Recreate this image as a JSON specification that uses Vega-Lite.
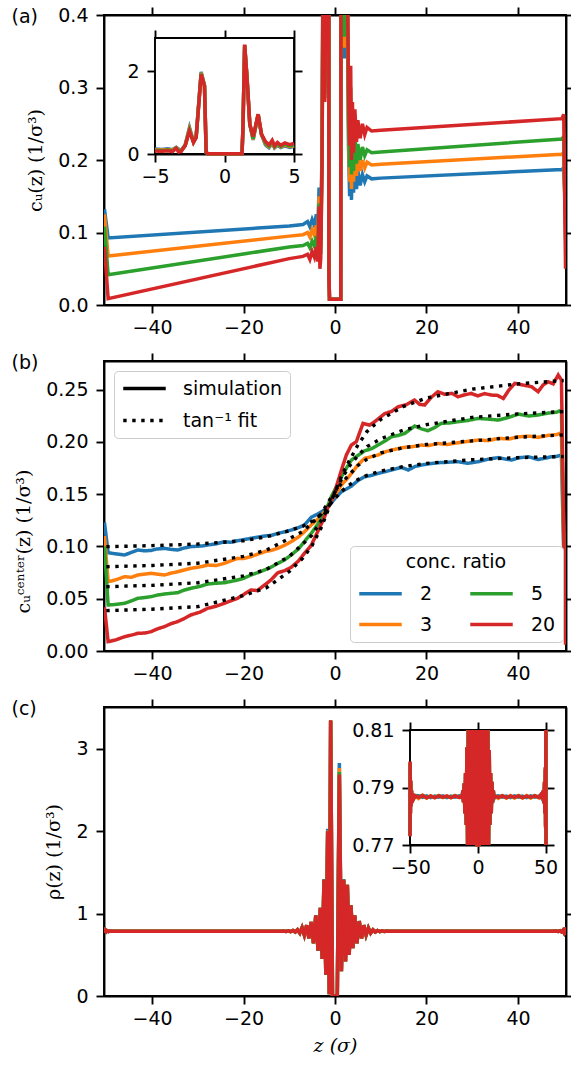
{
  "$schema": "https://vega.github.io/schema/vega-lite/v6.json",
  "background": "white",
  "padding": {"left": 10, "top": 5, "right": 0, "bottom": 4},
  "spacing": 13,
  "config": {
    "view": {"stroke": "black", "strokeWidth": 1.9},
    "axis": {"grid": false, "zindex": 1, "domainColor": "black", "domainWidth": 1.9, "tickColor": "black", "tickWidth": 1.9, "tickSize": 8, "labelFont": "DejaVu Sans", "labelFontSize": 19, "labelColor": "black", "titleFont": "DejaVu Serif", "titleFontSize": 19, "titleFontWeight": "normal", "titleColor": "black", "labelFlush": false, "labelOverlap": false},
    "axisX": {"labelPadding": 5, "titlePadding": 8},
    "axisY": {"labelPadding": 8, "titlePadding": 12},
    "line": {"strokeWidth": 3.5}
  },
  "resolve": {"scale": {"color": "independent", "strokeDash": "independent"}, "legend": {"color": "independent", "strokeDash": "independent"}},
  "datasets": {
    "cu": [
      {"z":-50.4,"ratio":"2","c":0.132},{"z":-49.6,"ratio":"2","c":0.0924},{"z":-10,"ratio":"2","c":0.109},{"z":-7,"ratio":"2","c":0.111},{"z":-6,"ratio":"2","c":0.115},{"z":-5.5,"ratio":"2","c":0.108},{"z":-5,"ratio":"2","c":0.118},{"z":-4.5,"ratio":"2","c":0.11},{"z":-4.08,"ratio":"2","c":0.125},{"z":-3.75,"ratio":"2","c":0.105},{"z":-3.48,"ratio":"2","c":0.162},{"z":-3.3,"ratio":"2","c":0.115},{"z":-3.12,"ratio":"2","c":0.09},{"z":-2.83,"ratio":"2","c":0.22},{"z":-2.52,"ratio":"2","c":0.64},{"z":-2.23,"ratio":"2","c":0.3},{"z":-2.04,"ratio":"2","c":0.42},{"z":-1.68,"ratio":"2","c":1.98},{"z":-1.44,"ratio":"2","c":1.66},{"z":-1.32,"ratio":"2","c":0.04},{"z":-1.2,"ratio":"2","c":0.008},{"z":1.26,"ratio":"2","c":0.008},{"z":1.33,"ratio":"2","c":0.64},{"z":1.45,"ratio":"2","c":2.62},{"z":1.62,"ratio":"2","c":1.84},{"z":1.82,"ratio":"2","c":0.72},{"z":2.06,"ratio":"2","c":0.34},{"z":2.42,"ratio":"2","c":0.95},{"z":2.66,"ratio":"2","c":0.47},{"z":2.95,"ratio":"2","c":0.22},{"z":3.2,"ratio":"2","c":0.15},{"z":3.43,"ratio":"2","c":0.26},{"z":3.6,"ratio":"2","c":0.145},{"z":3.81,"ratio":"2","c":0.21},{"z":4.05,"ratio":"2","c":0.155},{"z":4.34,"ratio":"2","c":0.2},{"z":4.7,"ratio":"2","c":0.16},{"z":5,"ratio":"2","c":0.185},{"z":5.5,"ratio":"2","c":0.165},{"z":6,"ratio":"2","c":0.18},{"z":6.5,"ratio":"2","c":0.17},{"z":7,"ratio":"2","c":0.178},{"z":8,"ratio":"2","c":0.174},{"z":10,"ratio":"2","c":0.175},{"z":49.6,"ratio":"2","c":0.187},{"z":50,"ratio":"2","c":0.189},{"z":50.4,"ratio":"2","c":0.13},
      {"z":-50.4,"ratio":"3","c":0.125},{"z":-49.6,"ratio":"3","c":0.0676},{"z":-10,"ratio":"3","c":0.095},{"z":-7,"ratio":"3","c":0.097},{"z":-6,"ratio":"3","c":0.1},{"z":-5.5,"ratio":"3","c":0.094},{"z":-5,"ratio":"3","c":0.104},{"z":-4.5,"ratio":"3","c":0.096},{"z":-4.08,"ratio":"3","c":0.11},{"z":-3.75,"ratio":"3","c":0.092},{"z":-3.48,"ratio":"3","c":0.15},{"z":-3.3,"ratio":"3","c":0.1},{"z":-3.12,"ratio":"3","c":0.08},{"z":-2.83,"ratio":"3","c":0.21},{"z":-2.52,"ratio":"3","c":0.61},{"z":-2.23,"ratio":"3","c":0.29},{"z":-2.04,"ratio":"3","c":0.41},{"z":-1.68,"ratio":"3","c":1.96},{"z":-1.44,"ratio":"3","c":1.65},{"z":-1.32,"ratio":"3","c":0.04},{"z":-1.2,"ratio":"3","c":0.008},{"z":1.26,"ratio":"3","c":0.008},{"z":1.33,"ratio":"3","c":0.64},{"z":1.45,"ratio":"3","c":2.63},{"z":1.62,"ratio":"3","c":1.84},{"z":1.82,"ratio":"3","c":0.72},{"z":2.06,"ratio":"3","c":0.355},{"z":2.42,"ratio":"3","c":0.955},{"z":2.66,"ratio":"3","c":0.475},{"z":2.95,"ratio":"3","c":0.24},{"z":3.2,"ratio":"3","c":0.17},{"z":3.43,"ratio":"3","c":0.28},{"z":3.6,"ratio":"3","c":0.16},{"z":3.81,"ratio":"3","c":0.23},{"z":4.05,"ratio":"3","c":0.17},{"z":4.34,"ratio":"3","c":0.22},{"z":4.7,"ratio":"3","c":0.178},{"z":5,"ratio":"3","c":0.205},{"z":5.5,"ratio":"3","c":0.185},{"z":6,"ratio":"3","c":0.2},{"z":6.5,"ratio":"3","c":0.189},{"z":7,"ratio":"3","c":0.197},{"z":8,"ratio":"3","c":0.193},{"z":10,"ratio":"3","c":0.194},{"z":49.6,"ratio":"3","c":0.208},{"z":50,"ratio":"3","c":0.21},{"z":50.4,"ratio":"3","c":0.11},
      {"z":-50.4,"ratio":"5","c":0.108},{"z":-49.6,"ratio":"5","c":0.0418},{"z":-10,"ratio":"5","c":0.08},{"z":-7,"ratio":"5","c":0.082},{"z":-6,"ratio":"5","c":0.085},{"z":-5.5,"ratio":"5","c":0.079},{"z":-5,"ratio":"5","c":0.088},{"z":-4.5,"ratio":"5","c":0.081},{"z":-4.08,"ratio":"5","c":0.095},{"z":-3.75,"ratio":"5","c":0.076},{"z":-3.48,"ratio":"5","c":0.14},{"z":-3.3,"ratio":"5","c":0.085},{"z":-3.12,"ratio":"5","c":0.07},{"z":-2.83,"ratio":"5","c":0.2},{"z":-2.52,"ratio":"5","c":0.58},{"z":-2.23,"ratio":"5","c":0.285},{"z":-2.04,"ratio":"5","c":0.4},{"z":-1.68,"ratio":"5","c":1.94},{"z":-1.44,"ratio":"5","c":1.645},{"z":-1.32,"ratio":"5","c":0.04},{"z":-1.2,"ratio":"5","c":0.008},{"z":1.26,"ratio":"5","c":0.008},{"z":1.33,"ratio":"5","c":0.64},{"z":1.45,"ratio":"5","c":2.63},{"z":1.62,"ratio":"5","c":1.84},{"z":1.82,"ratio":"5","c":0.72},{"z":2.06,"ratio":"5","c":0.37},{"z":2.42,"ratio":"5","c":0.958},{"z":2.66,"ratio":"5","c":0.478},{"z":2.95,"ratio":"5","c":0.26},{"z":3.2,"ratio":"5","c":0.19},{"z":3.43,"ratio":"5","c":0.3},{"z":3.6,"ratio":"5","c":0.18},{"z":3.81,"ratio":"5","c":0.245},{"z":4.05,"ratio":"5","c":0.185},{"z":4.34,"ratio":"5","c":0.24},{"z":4.7,"ratio":"5","c":0.195},{"z":5,"ratio":"5","c":0.222},{"z":5.5,"ratio":"5","c":0.2},{"z":6,"ratio":"5","c":0.218},{"z":6.5,"ratio":"5","c":0.206},{"z":7,"ratio":"5","c":0.214},{"z":8,"ratio":"5","c":0.21},{"z":10,"ratio":"5","c":0.211},{"z":49.6,"ratio":"5","c":0.229},{"z":50,"ratio":"5","c":0.232},{"z":50.4,"ratio":"5","c":0.09},
      {"z":-50.4,"ratio":"20","c":0.08},{"z":-49.6,"ratio":"20","c":0.0087},{"z":-10,"ratio":"20","c":0.064},{"z":-7,"ratio":"20","c":0.067},{"z":-6,"ratio":"20","c":0.07},{"z":-5.5,"ratio":"20","c":0.063},{"z":-5,"ratio":"20","c":0.074},{"z":-4.5,"ratio":"20","c":0.066},{"z":-4.08,"ratio":"20","c":0.08},{"z":-3.75,"ratio":"20","c":0.06},{"z":-3.48,"ratio":"20","c":0.136},{"z":-3.3,"ratio":"20","c":0.05},{"z":-3.12,"ratio":"20","c":0.064},{"z":-2.83,"ratio":"20","c":0.2},{"z":-2.52,"ratio":"20","c":0.55},{"z":-2.23,"ratio":"20","c":0.28},{"z":-2.04,"ratio":"20","c":0.4},{"z":-1.68,"ratio":"20","c":1.92},{"z":-1.44,"ratio":"20","c":1.64},{"z":-1.32,"ratio":"20","c":0.04},{"z":-1.2,"ratio":"20","c":0.008},{"z":1.26,"ratio":"20","c":0.008},{"z":1.33,"ratio":"20","c":0.64},{"z":1.45,"ratio":"20","c":2.64},{"z":1.62,"ratio":"20","c":1.84},{"z":1.82,"ratio":"20","c":0.72},{"z":2.06,"ratio":"20","c":0.42},{"z":2.42,"ratio":"20","c":0.96},{"z":2.66,"ratio":"20","c":0.48},{"z":2.95,"ratio":"20","c":0.3},{"z":3.2,"ratio":"20","c":0.22},{"z":3.43,"ratio":"20","c":0.33},{"z":3.6,"ratio":"20","c":0.2},{"z":3.81,"ratio":"20","c":0.28},{"z":4.05,"ratio":"20","c":0.21},{"z":4.34,"ratio":"20","c":0.27},{"z":4.7,"ratio":"20","c":0.225},{"z":5,"ratio":"20","c":0.255},{"z":5.5,"ratio":"20","c":0.23},{"z":6,"ratio":"20","c":0.25},{"z":6.5,"ratio":"20","c":0.235},{"z":7,"ratio":"20","c":0.245},{"z":8,"ratio":"20","c":0.24},{"z":10,"ratio":"20","c":0.241},{"z":49.6,"ratio":"20","c":0.257},{"z":50,"ratio":"20","c":0.263},{"z":50.4,"ratio":"20","c":0.05}
    ],
    "sim": [
      {"z":-50.4,"ratio":"2","c":0.123},{"z":-49.6,"ratio":"2","c":0.094},{"z":-48,"ratio":"2","c":0.093},{"z":-46,"ratio":"2","c":0.0918},{"z":-45,"ratio":"2","c":0.0935},{"z":-43.1,"ratio":"2","c":0.0966},{"z":-41.5,"ratio":"2","c":0.0958},{"z":-40.2,"ratio":"2","c":0.0962},{"z":-39,"ratio":"2","c":0.0975},{"z":-37.3,"ratio":"2","c":0.0982},{"z":-35.8,"ratio":"2","c":0.0972},{"z":-34.4,"ratio":"2","c":0.0966},{"z":-33,"ratio":"2","c":0.0985},{"z":-31.5,"ratio":"2","c":0.0998},{"z":-29,"ratio":"2","c":0.1005},{"z":-27.8,"ratio":"2","c":0.1014},{"z":-26,"ratio":"2","c":0.1025},{"z":-24.2,"ratio":"2","c":0.1045},{"z":-22.8,"ratio":"2","c":0.104},{"z":-21.3,"ratio":"2","c":0.1055},{"z":-20,"ratio":"2","c":0.1065},{"z":-18.4,"ratio":"2","c":0.1078},{"z":-17,"ratio":"2","c":0.1088},{"z":-15.4,"ratio":"2","c":0.11},{"z":-14,"ratio":"2","c":0.1105},{"z":-12.5,"ratio":"2","c":0.1125},{"z":-11,"ratio":"2","c":0.114},{"z":-9.6,"ratio":"2","c":0.1157},{"z":-8,"ratio":"2","c":0.118},{"z":-6.7,"ratio":"2","c":0.1205},{"z":-5.2,"ratio":"2","c":0.1279},{"z":-3.8,"ratio":"2","c":0.131},{"z":-2.3,"ratio":"2","c":0.135},{"z":-1.5,"ratio":"2","c":0.138},{"z":0,"ratio":"2","c":0.146},{"z":1.4,"ratio":"2","c":0.1524},{"z":2.5,"ratio":"2","c":0.155},{"z":3.6,"ratio":"2","c":0.1578},{"z":5,"ratio":"2","c":0.163},{"z":6.5,"ratio":"2","c":0.1667},{"z":8,"ratio":"2","c":0.168},{"z":9.4,"ratio":"2","c":0.1699},{"z":11,"ratio":"2","c":0.1715},{"z":12.3,"ratio":"2","c":0.1731},{"z":13.5,"ratio":"2","c":0.1745},{"z":14.5,"ratio":"2","c":0.1757},{"z":16,"ratio":"2","c":0.1731},{"z":17.5,"ratio":"2","c":0.1765},{"z":18.9,"ratio":"2","c":0.1779},{"z":20.5,"ratio":"2","c":0.179},{"z":22.5,"ratio":"2","c":0.1801},{"z":24.5,"ratio":"2","c":0.1805},{"z":26.9,"ratio":"2","c":0.1811},{"z":29,"ratio":"2","c":0.1795},{"z":31.3,"ratio":"2","c":0.1811},{"z":33.5,"ratio":"2","c":0.1835},{"z":35.7,"ratio":"2","c":0.185},{"z":37,"ratio":"2","c":0.1838},{"z":38.6,"ratio":"2","c":0.1827},{"z":40.2,"ratio":"2","c":0.1848},{"z":42.3,"ratio":"2","c":0.1858},{"z":44.4,"ratio":"2","c":0.1832},{"z":46,"ratio":"2","c":0.1845},{"z":47.3,"ratio":"2","c":0.1858},{"z":48.5,"ratio":"2","c":0.1862},{"z":49.5,"ratio":"2","c":0.1875},{"z":50.4,"ratio":"2","c":0.02},
      {"z":-50.4,"ratio":"3","c":0.11},{"z":-49.6,"ratio":"3","c":0.0663},{"z":-48,"ratio":"3","c":0.068},{"z":-46,"ratio":"3","c":0.0711},{"z":-44.5,"ratio":"3","c":0.0705},{"z":-43.1,"ratio":"3","c":0.0727},{"z":-40.2,"ratio":"3","c":0.0743},{"z":-38.8,"ratio":"3","c":0.0735},{"z":-37.3,"ratio":"3","c":0.0727},{"z":-35.8,"ratio":"3","c":0.0745},{"z":-34.4,"ratio":"3","c":0.0758},{"z":-33,"ratio":"3","c":0.0775},{"z":-31.5,"ratio":"3","c":0.0791},{"z":-29.5,"ratio":"3","c":0.0805},{"z":-27.8,"ratio":"3","c":0.0822},{"z":-26,"ratio":"3","c":0.0818},{"z":-24.2,"ratio":"3","c":0.0838},{"z":-22.8,"ratio":"3","c":0.0862},{"z":-21.3,"ratio":"3","c":0.0886},{"z":-20,"ratio":"3","c":0.0885},{"z":-18.4,"ratio":"3","c":0.0902},{"z":-17,"ratio":"3","c":0.0925},{"z":-15.4,"ratio":"3","c":0.095},{"z":-14,"ratio":"3","c":0.0962},{"z":-12.5,"ratio":"3","c":0.0982},{"z":-11,"ratio":"3","c":0.1012},{"z":-9.6,"ratio":"3","c":0.1045},{"z":-8,"ratio":"3","c":0.109},{"z":-6.7,"ratio":"3","c":0.114},{"z":-5.2,"ratio":"3","c":0.1205},{"z":-3.8,"ratio":"3","c":0.126},{"z":-2.3,"ratio":"3","c":0.133},{"z":-0.8,"ratio":"3","c":0.1444},{"z":0.3,"ratio":"3","c":0.151},{"z":1.4,"ratio":"3","c":0.1588},{"z":2.5,"ratio":"3","c":0.164},{"z":3.6,"ratio":"3","c":0.1699},{"z":5,"ratio":"3","c":0.178},{"z":6.5,"ratio":"3","c":0.1843},{"z":8,"ratio":"3","c":0.1859},{"z":9.4,"ratio":"3","c":0.1875},{"z":11,"ratio":"3","c":0.1905},{"z":12.3,"ratio":"3","c":0.1922},{"z":13.8,"ratio":"3","c":0.1935},{"z":15.2,"ratio":"3","c":0.1948},{"z":17,"ratio":"3","c":0.1955},{"z":18.9,"ratio":"3","c":0.197},{"z":20.5,"ratio":"3","c":0.1965},{"z":22.5,"ratio":"3","c":0.1985},{"z":24.5,"ratio":"3","c":0.1975},{"z":26.9,"ratio":"3","c":0.1992},{"z":29,"ratio":"3","c":0.2005},{"z":31.3,"ratio":"3","c":0.2018},{"z":33.5,"ratio":"3","c":0.2012},{"z":35.7,"ratio":"3","c":0.2034},{"z":38,"ratio":"3","c":0.2028},{"z":40.1,"ratio":"3","c":0.2049},{"z":42.5,"ratio":"3","c":0.2055},{"z":44.4,"ratio":"3","c":0.2043},{"z":46.5,"ratio":"3","c":0.2062},{"z":48.5,"ratio":"3","c":0.207},{"z":49.5,"ratio":"3","c":0.2088},{"z":50.4,"ratio":"3","c":0.02},
      {"z":-50.4,"ratio":"5","c":0.1},{"z":-49.6,"ratio":"5","c":0.044},{"z":-48,"ratio":"5","c":0.0445},{"z":-46,"ratio":"5","c":0.0456},{"z":-44.5,"ratio":"5","c":0.048},{"z":-43.1,"ratio":"5","c":0.0504},{"z":-41.5,"ratio":"5","c":0.0512},{"z":-40.2,"ratio":"5","c":0.052},{"z":-38.8,"ratio":"5","c":0.0535},{"z":-37.3,"ratio":"5","c":0.0545},{"z":-35.8,"ratio":"5","c":0.0552},{"z":-34.4,"ratio":"5","c":0.0558},{"z":-33,"ratio":"5","c":0.0582},{"z":-31.5,"ratio":"5","c":0.06},{"z":-29.5,"ratio":"5","c":0.0618},{"z":-27.8,"ratio":"5","c":0.0641},{"z":-26,"ratio":"5","c":0.0648},{"z":-24.2,"ratio":"5","c":0.0653},{"z":-22.8,"ratio":"5","c":0.0665},{"z":-21.3,"ratio":"5","c":0.0679},{"z":-20,"ratio":"5","c":0.0695},{"z":-18.4,"ratio":"5","c":0.0727},{"z":-17,"ratio":"5","c":0.0748},{"z":-15.4,"ratio":"5","c":0.0775},{"z":-14,"ratio":"5","c":0.0802},{"z":-12.5,"ratio":"5","c":0.0838},{"z":-11,"ratio":"5","c":0.0872},{"z":-9.6,"ratio":"5","c":0.0918},{"z":-8,"ratio":"5","c":0.0975},{"z":-6.7,"ratio":"5","c":0.1046},{"z":-5.2,"ratio":"5","c":0.1125},{"z":-3.8,"ratio":"5","c":0.121},{"z":-2.3,"ratio":"5","c":0.131},{"z":-0.8,"ratio":"5","c":0.1476},{"z":0.3,"ratio":"5","c":0.157},{"z":1.4,"ratio":"5","c":0.1667},{"z":2.5,"ratio":"5","c":0.175},{"z":3.6,"ratio":"5","c":0.1827},{"z":5,"ratio":"5","c":0.187},{"z":6.5,"ratio":"5","c":0.1915},{"z":8,"ratio":"5","c":0.1935},{"z":9.4,"ratio":"5","c":0.197},{"z":11,"ratio":"5","c":0.201},{"z":12.3,"ratio":"5","c":0.2049},{"z":13.8,"ratio":"5","c":0.2062},{"z":15.2,"ratio":"5","c":0.208},{"z":16.3,"ratio":"5","c":0.2115},{"z":17.4,"ratio":"5","c":0.2152},{"z":18.9,"ratio":"5","c":0.2125},{"z":20.3,"ratio":"5","c":0.2107},{"z":21.7,"ratio":"5","c":0.2135},{"z":23.2,"ratio":"5","c":0.2177},{"z":25,"ratio":"5","c":0.2182},{"z":26.9,"ratio":"5","c":0.2193},{"z":29,"ratio":"5","c":0.2205},{"z":31.3,"ratio":"5","c":0.2225},{"z":33.5,"ratio":"5","c":0.2218},{"z":35.7,"ratio":"5","c":0.2209},{"z":38,"ratio":"5","c":0.2235},{"z":40.1,"ratio":"5","c":0.2266},{"z":42.3,"ratio":"5","c":0.2248},{"z":44.4,"ratio":"5","c":0.2257},{"z":46.5,"ratio":"5","c":0.2275},{"z":48.5,"ratio":"5","c":0.2285},{"z":49.5,"ratio":"5","c":0.2305},{"z":50.4,"ratio":"5","c":0.02},
      {"z":-50.4,"ratio":"20","c":0.042},{"z":-49.6,"ratio":"20","c":0.0089},{"z":-48,"ratio":"20","c":0.0105},{"z":-46,"ratio":"20","c":0.0137},{"z":-44.5,"ratio":"20","c":0.0152},{"z":-43.1,"ratio":"20","c":0.0169},{"z":-41.5,"ratio":"20","c":0.0172},{"z":-40.2,"ratio":"20","c":0.0185},{"z":-38.8,"ratio":"20","c":0.0212},{"z":-37.3,"ratio":"20","c":0.0233},{"z":-35.8,"ratio":"20","c":0.0262},{"z":-34.4,"ratio":"20","c":0.0281},{"z":-33,"ratio":"20","c":0.031},{"z":-31.5,"ratio":"20","c":0.0345},{"z":-29.5,"ratio":"20","c":0.0372},{"z":-27.8,"ratio":"20","c":0.0409},{"z":-26,"ratio":"20","c":0.0428},{"z":-24.2,"ratio":"20","c":0.0456},{"z":-22.8,"ratio":"20","c":0.048},{"z":-21.3,"ratio":"20","c":0.0504},{"z":-19.8,"ratio":"20","c":0.0545},{"z":-18.4,"ratio":"20","c":0.0584},{"z":-17,"ratio":"20","c":0.0578},{"z":-15.4,"ratio":"20","c":0.0631},{"z":-14,"ratio":"20","c":0.068},{"z":-12.5,"ratio":"20","c":0.0749},{"z":-11,"ratio":"20","c":0.0768},{"z":-9.6,"ratio":"20","c":0.08},{"z":-8,"ratio":"20","c":0.086},{"z":-6.7,"ratio":"20","c":0.0934},{"z":-5.2,"ratio":"20","c":0.101},{"z":-3.8,"ratio":"20","c":0.114},{"z":-2.3,"ratio":"20","c":0.128},{"z":-1.5,"ratio":"20","c":0.138},{"z":-1.05,"ratio":"20","c":0.141},{"z":0,"ratio":"20","c":0.153},{"z":1.4,"ratio":"20","c":0.173},{"z":2.48,"ratio":"20","c":0.1875},{"z":3.57,"ratio":"20","c":0.197},{"z":4.66,"ratio":"20","c":0.2002},{"z":6.12,"ratio":"20","c":0.2177},{"z":7.58,"ratio":"20","c":0.2161},{"z":8.67,"ratio":"20","c":0.2193},{"z":10.9,"ratio":"20","c":0.2272},{"z":12.3,"ratio":"20","c":0.229},{"z":13.8,"ratio":"20","c":0.2336},{"z":15.5,"ratio":"20","c":0.2355},{"z":17.4,"ratio":"20","c":0.24},{"z":18.5,"ratio":"20","c":0.236},{"z":19.6,"ratio":"20","c":0.2353},{"z":21,"ratio":"20","c":0.2425},{"z":22.5,"ratio":"20","c":0.248},{"z":24,"ratio":"20","c":0.2455},{"z":25.5,"ratio":"20","c":0.2465},{"z":26.9,"ratio":"20","c":0.2432},{"z":28.3,"ratio":"20","c":0.245},{"z":29.8,"ratio":"20","c":0.2464},{"z":31.2,"ratio":"20","c":0.244},{"z":32.7,"ratio":"20","c":0.2462},{"z":34.2,"ratio":"20","c":0.2448},{"z":35.5,"ratio":"20","c":0.2445},{"z":36.8,"ratio":"20","c":0.2416},{"z":38,"ratio":"20","c":0.2495},{"z":39.3,"ratio":"20","c":0.256},{"z":41,"ratio":"20","c":0.2545},{"z":43,"ratio":"20","c":0.2528},{"z":44.4,"ratio":"20","c":0.248},{"z":45.5,"ratio":"20","c":0.2545},{"z":46.6,"ratio":"20","c":0.2576},{"z":47.7,"ratio":"20","c":0.2555},{"z":48.8,"ratio":"20","c":0.264},{"z":49.5,"ratio":"20","c":0.2592},{"z":50.4,"ratio":"20","c":0.006}
    ],
    "fit": [
      {"z":-50,"ratio":"2","c":0.0998},{"z":-40,"ratio":"2","c":0.1008},{"z":-30,"ratio":"2","c":0.1023},{"z":-20,"ratio":"2","c":0.1055},{"z":-15,"ratio":"2","c":0.1093},{"z":-10,"ratio":"2","c":0.115},{"z":-7,"ratio":"2","c":0.1195},{"z":-5,"ratio":"2","c":0.124},{"z":-3,"ratio":"2","c":0.1305},{"z":-1.5,"ratio":"2","c":0.138},{"z":0,"ratio":"2","c":0.146},{"z":1.5,"ratio":"2","c":0.153},{"z":3,"ratio":"2","c":0.1585},{"z":5,"ratio":"2","c":0.164},{"z":7,"ratio":"2","c":0.168},{"z":10,"ratio":"2","c":0.172},{"z":15,"ratio":"2","c":0.1765},{"z":20,"ratio":"2","c":0.1795},{"z":30,"ratio":"2","c":0.183},{"z":40,"ratio":"2","c":0.185},{"z":50,"ratio":"2","c":0.186},
      {"z":-50,"ratio":"3","c":0.0806},{"z":-40,"ratio":"3","c":0.0818},{"z":-30,"ratio":"3","c":0.084},{"z":-20,"ratio":"3","c":0.0905},{"z":-15,"ratio":"3","c":0.0965},{"z":-10,"ratio":"3","c":0.1075},{"z":-7,"ratio":"3","c":0.1145},{"z":-5,"ratio":"3","c":0.1225},{"z":-3,"ratio":"3","c":0.131},{"z":-1.5,"ratio":"3","c":0.1425},{"z":0,"ratio":"3","c":0.152},{"z":1.5,"ratio":"3","c":0.161},{"z":3,"ratio":"3","c":0.168},{"z":5,"ratio":"3","c":0.1775},{"z":7,"ratio":"3","c":0.1835},{"z":10,"ratio":"3","c":0.1895},{"z":15,"ratio":"3","c":0.1945},{"z":20,"ratio":"3","c":0.1975},{"z":30,"ratio":"3","c":0.201},{"z":40,"ratio":"3","c":0.2045},{"z":50,"ratio":"3","c":0.2067},
      {"z":-50,"ratio":"5","c":0.0615},{"z":-40,"ratio":"5","c":0.0628},{"z":-30,"ratio":"5","c":0.0653},{"z":-20,"ratio":"5","c":0.0718},{"z":-15,"ratio":"5","c":0.078},{"z":-10,"ratio":"5","c":0.0905},{"z":-7,"ratio":"5","c":0.1025},{"z":-5,"ratio":"5","c":0.111},{"z":-3,"ratio":"5","c":0.125},{"z":-1.5,"ratio":"5","c":0.137},{"z":0,"ratio":"5","c":0.152},{"z":1.5,"ratio":"5","c":0.165},{"z":3,"ratio":"5","c":0.176},{"z":5,"ratio":"5","c":0.187},{"z":7,"ratio":"5","c":0.1955},{"z":10,"ratio":"5","c":0.203},{"z":15,"ratio":"5","c":0.2115},{"z":20,"ratio":"5","c":0.2165},{"z":30,"ratio":"5","c":0.2235},{"z":40,"ratio":"5","c":0.2268},{"z":50,"ratio":"5","c":0.229},
      {"z":-50,"ratio":"20","c":0.0386},{"z":-40,"ratio":"20","c":0.04},{"z":-30,"ratio":"20","c":0.0424},{"z":-20,"ratio":"20","c":0.053},{"z":-15,"ratio":"20","c":0.0605},{"z":-10,"ratio":"20","c":0.076},{"z":-7,"ratio":"20","c":0.089},{"z":-5,"ratio":"20","c":0.101},{"z":-3,"ratio":"20","c":0.118},{"z":-1.5,"ratio":"20","c":0.135},{"z":0,"ratio":"20","c":0.152},{"z":1.5,"ratio":"20","c":0.168},{"z":3,"ratio":"20","c":0.181},{"z":5,"ratio":"20","c":0.197},{"z":7,"ratio":"20","c":0.21},{"z":10,"ratio":"20","c":0.2215},{"z":15,"ratio":"20","c":0.234},{"z":20,"ratio":"20","c":0.242},{"z":30,"ratio":"20","c":0.2505},{"z":40,"ratio":"20","c":0.2555},{"z":50,"ratio":"20","c":0.2588}
    ],
    "rho": [
      {"z":-50.4,"ratio":"2","c":0.774},{"z":-50.2,"ratio":"2","c":0.798},{"z":-50,"ratio":"2","c":0.781},{"z":-49.8,"ratio":"2","c":0.792},{"z":-49.5,"ratio":"2","c":0.7838},{"z":-49.2,"ratio":"2","c":0.7888},{"z":-48.8,"ratio":"2","c":0.7858},{"z":-48.3,"ratio":"2","c":0.7876},{"z":-47.5,"ratio":"2","c":0.7865},{"z":-46.5,"ratio":"2","c":0.7872},{"z":-44,"ratio":"2","c":0.7871},{"z":-41,"ratio":"2","c":0.7866},{"z":-38,"ratio":"2","c":0.7871},{"z":-35,"ratio":"2","c":0.7865},{"z":-32,"ratio":"2","c":0.787},{"z":-29,"ratio":"2","c":0.7866},{"z":-26,"ratio":"2","c":0.7871},{"z":-23,"ratio":"2","c":0.7865},{"z":-20,"ratio":"2","c":0.787},{"z":-17,"ratio":"2","c":0.7866},{"z":-14,"ratio":"2","c":0.7871},{"z":-12.5,"ratio":"2","c":0.7868},{"z":-11.8,"ratio":"2","c":0.7863},{"z":-11.2,"ratio":"2","c":0.7889},{"z":-10.7,"ratio":"2","c":0.7849},{"z":-10.2,"ratio":"2","c":0.7913},{"z":-9.7,"ratio":"2","c":0.7812},{"z":-9.2,"ratio":"2","c":0.7948},{"z":-8.7,"ratio":"2","c":0.7772},{"z":-8.2,"ratio":"2","c":0.8035},{"z":-7.7,"ratio":"2","c":0.7645},{"z":-7.2,"ratio":"2","c":0.83},{"z":-6.7,"ratio":"2","c":0.74},{"z":-6.2,"ratio":"2","c":0.86},{"z":-5.7,"ratio":"2","c":0.7},{"z":-5.2,"ratio":"2","c":0.9},{"z":-4.7,"ratio":"2","c":0.64},{"z":-4.2,"ratio":"2","c":0.98},{"z":-3.7,"ratio":"2","c":0.55},{"z":-3.2,"ratio":"2","c":1.07},{"z":-2.8,"ratio":"2","c":0.45},{"z":-2.4,"ratio":"2","c":1.42},{"z":-2,"ratio":"2","c":0.26},{"z":-1.6,"ratio":"2","c":2.03},{"z":-1.25,"ratio":"2","c":0.02},{"z":-0.95,"ratio":"2","c":3.34},{"z":-0.55,"ratio":"2","c":0},{"z":0,"ratio":"2","c":0},{"z":0.5,"ratio":"2","c":0},{"z":0.95,"ratio":"2","c":2.83},{"z":1.4,"ratio":"2","c":0.3},{"z":1.9,"ratio":"2","c":1.42},{"z":2.3,"ratio":"2","c":0.42},{"z":2.7,"ratio":"2","c":1.35},{"z":3.1,"ratio":"2","c":0.5},{"z":3.5,"ratio":"2","c":1.1},{"z":3.9,"ratio":"2","c":0.58},{"z":4.3,"ratio":"2","c":0.98},{"z":4.8,"ratio":"2","c":0.64},{"z":5.3,"ratio":"2","c":0.91},{"z":5.8,"ratio":"2","c":0.7},{"z":6.3,"ratio":"2","c":0.86},{"z":6.8,"ratio":"2","c":0.74},{"z":7.3,"ratio":"2","c":0.825},{"z":7.8,"ratio":"2","c":0.765},{"z":8.3,"ratio":"2","c":0.803},{"z":8.8,"ratio":"2","c":0.777},{"z":9.3,"ratio":"2","c":0.795},{"z":9.8,"ratio":"2","c":0.781},{"z":10.3,"ratio":"2","c":0.792},{"z":10.8,"ratio":"2","c":0.7848},{"z":11.3,"ratio":"2","c":0.789},{"z":11.9,"ratio":"2","c":0.7862},{"z":12.5,"ratio":"2","c":0.7868},{"z":15,"ratio":"2","c":0.7871},{"z":18,"ratio":"2","c":0.7866},{"z":21,"ratio":"2","c":0.787},{"z":24,"ratio":"2","c":0.7865},{"z":27,"ratio":"2","c":0.7871},{"z":30,"ratio":"2","c":0.7866},{"z":33,"ratio":"2","c":0.787},{"z":36,"ratio":"2","c":0.7865},{"z":39,"ratio":"2","c":0.7871},{"z":42,"ratio":"2","c":0.7866},{"z":45,"ratio":"2","c":0.787},{"z":46.5,"ratio":"2","c":0.7872},{"z":47.5,"ratio":"2","c":0.7862},{"z":48.3,"ratio":"2","c":0.7888},{"z":48.8,"ratio":"2","c":0.7848},{"z":49.2,"ratio":"2","c":0.7915},{"z":49.5,"ratio":"2","c":0.7815},{"z":49.8,"ratio":"2","c":0.796},{"z":50,"ratio":"2","c":0.777},{"z":50.2,"ratio":"2","c":0.828},{"z":50.4,"ratio":"2","c":0.742},
      {"z":-50.4,"ratio":"3","c":0.7735},{"z":-50.2,"ratio":"3","c":0.7985},{"z":-50,"ratio":"3","c":0.781},{"z":-49.8,"ratio":"3","c":0.7922},{"z":-49.5,"ratio":"3","c":0.7836},{"z":-49.2,"ratio":"3","c":0.7889},{"z":-48.8,"ratio":"3","c":0.7856},{"z":-48.3,"ratio":"3","c":0.7877},{"z":-47.5,"ratio":"3","c":0.7863},{"z":-46.5,"ratio":"3","c":0.7871},{"z":-44,"ratio":"3","c":0.7862},{"z":-41,"ratio":"3","c":0.7873},{"z":-38,"ratio":"3","c":0.7863},{"z":-35,"ratio":"3","c":0.7871},{"z":-32,"ratio":"3","c":0.7864},{"z":-29,"ratio":"3","c":0.7872},{"z":-26,"ratio":"3","c":0.7865},{"z":-23,"ratio":"3","c":0.7871},{"z":-20,"ratio":"3","c":0.7864},{"z":-17,"ratio":"3","c":0.7872},{"z":-14,"ratio":"3","c":0.7865},{"z":-12.5,"ratio":"3","c":0.787},{"z":-11.8,"ratio":"3","c":0.7862},{"z":-11.2,"ratio":"3","c":0.789},{"z":-10.7,"ratio":"3","c":0.7848},{"z":-10.2,"ratio":"3","c":0.7915},{"z":-9.7,"ratio":"3","c":0.781},{"z":-9.2,"ratio":"3","c":0.795},{"z":-8.7,"ratio":"3","c":0.777},{"z":-8.2,"ratio":"3","c":0.804},{"z":-7.7,"ratio":"3","c":0.764},{"z":-7.2,"ratio":"3","c":0.83},{"z":-6.7,"ratio":"3","c":0.74},{"z":-6.2,"ratio":"3","c":0.86},{"z":-5.7,"ratio":"3","c":0.7},{"z":-5.2,"ratio":"3","c":0.9},{"z":-4.7,"ratio":"3","c":0.64},{"z":-4.2,"ratio":"3","c":0.98},{"z":-3.7,"ratio":"3","c":0.55},{"z":-3.2,"ratio":"3","c":1.07},{"z":-2.8,"ratio":"3","c":0.45},{"z":-2.4,"ratio":"3","c":1.41},{"z":-2,"ratio":"3","c":0.26},{"z":-1.6,"ratio":"3","c":2.01},{"z":-1.25,"ratio":"3","c":0.02},{"z":-0.95,"ratio":"3","c":3.34},{"z":-0.55,"ratio":"3","c":0},{"z":0,"ratio":"3","c":0},{"z":0.5,"ratio":"3","c":0},{"z":0.95,"ratio":"3","c":2.77},{"z":1.4,"ratio":"3","c":0.3},{"z":1.9,"ratio":"3","c":1.41},{"z":2.3,"ratio":"3","c":0.42},{"z":2.7,"ratio":"3","c":1.35},{"z":3.1,"ratio":"3","c":0.5},{"z":3.5,"ratio":"3","c":1.1},{"z":3.9,"ratio":"3","c":0.58},{"z":4.3,"ratio":"3","c":0.98},{"z":4.8,"ratio":"3","c":0.64},{"z":5.3,"ratio":"3","c":0.91},{"z":5.8,"ratio":"3","c":0.7},{"z":6.3,"ratio":"3","c":0.86},{"z":6.8,"ratio":"3","c":0.74},{"z":7.3,"ratio":"3","c":0.825},{"z":7.8,"ratio":"3","c":0.765},{"z":8.3,"ratio":"3","c":0.803},{"z":8.8,"ratio":"3","c":0.777},{"z":9.3,"ratio":"3","c":0.795},{"z":9.8,"ratio":"3","c":0.781},{"z":10.3,"ratio":"3","c":0.792},{"z":10.8,"ratio":"3","c":0.7848},{"z":11.3,"ratio":"3","c":0.789},{"z":11.9,"ratio":"3","c":0.7862},{"z":12.5,"ratio":"3","c":0.787},{"z":15,"ratio":"3","c":0.7862},{"z":18,"ratio":"3","c":0.7872},{"z":21,"ratio":"3","c":0.7863},{"z":24,"ratio":"3","c":0.7872},{"z":27,"ratio":"3","c":0.7863},{"z":30,"ratio":"3","c":0.7872},{"z":33,"ratio":"3","c":0.7863},{"z":36,"ratio":"3","c":0.7872},{"z":39,"ratio":"3","c":0.7863},{"z":42,"ratio":"3","c":0.7872},{"z":45,"ratio":"3","c":0.7864},{"z":46.5,"ratio":"3","c":0.7874},{"z":47.5,"ratio":"3","c":0.7861},{"z":48.3,"ratio":"3","c":0.7889},{"z":48.8,"ratio":"3","c":0.7846},{"z":49.2,"ratio":"3","c":0.7918},{"z":49.5,"ratio":"3","c":0.7812},{"z":49.8,"ratio":"3","c":0.7965},{"z":50,"ratio":"3","c":0.7765},{"z":50.2,"ratio":"3","c":0.829},{"z":50.4,"ratio":"3","c":0.741},
      {"z":-50.4,"ratio":"5","c":0.7732},{"z":-50.2,"ratio":"5","c":0.7988},{"z":-50,"ratio":"5","c":0.781},{"z":-49.8,"ratio":"5","c":0.7924},{"z":-49.5,"ratio":"5","c":0.7835},{"z":-49.2,"ratio":"5","c":0.789},{"z":-48.8,"ratio":"5","c":0.7855},{"z":-48.3,"ratio":"5","c":0.7878},{"z":-47.5,"ratio":"5","c":0.7862},{"z":-46.5,"ratio":"5","c":0.7871},{"z":-44,"ratio":"5","c":0.7868},{"z":-41,"ratio":"5","c":0.787},{"z":-38,"ratio":"5","c":0.7867},{"z":-35,"ratio":"5","c":0.7869},{"z":-32,"ratio":"5","c":0.7866},{"z":-29,"ratio":"5","c":0.787},{"z":-26,"ratio":"5","c":0.7867},{"z":-23,"ratio":"5","c":0.7869},{"z":-20,"ratio":"5","c":0.7866},{"z":-17,"ratio":"5","c":0.787},{"z":-14,"ratio":"5","c":0.7867},{"z":-12.5,"ratio":"5","c":0.787},{"z":-11.8,"ratio":"5","c":0.7862},{"z":-11.2,"ratio":"5","c":0.789},{"z":-10.7,"ratio":"5","c":0.7848},{"z":-10.2,"ratio":"5","c":0.7915},{"z":-9.7,"ratio":"5","c":0.781},{"z":-9.2,"ratio":"5","c":0.795},{"z":-8.7,"ratio":"5","c":0.777},{"z":-8.2,"ratio":"5","c":0.804},{"z":-7.7,"ratio":"5","c":0.764},{"z":-7.2,"ratio":"5","c":0.83},{"z":-6.7,"ratio":"5","c":0.74},{"z":-6.2,"ratio":"5","c":0.86},{"z":-5.7,"ratio":"5","c":0.7},{"z":-5.2,"ratio":"5","c":0.9},{"z":-4.7,"ratio":"5","c":0.64},{"z":-4.2,"ratio":"5","c":0.98},{"z":-3.7,"ratio":"5","c":0.55},{"z":-3.2,"ratio":"5","c":1.07},{"z":-2.8,"ratio":"5","c":0.45},{"z":-2.4,"ratio":"5","c":1.41},{"z":-2,"ratio":"5","c":0.26},{"z":-1.6,"ratio":"5","c":2},{"z":-1.25,"ratio":"5","c":0.02},{"z":-0.95,"ratio":"5","c":3.35},{"z":-0.55,"ratio":"5","c":0},{"z":0,"ratio":"5","c":0},{"z":0.5,"ratio":"5","c":0},{"z":0.95,"ratio":"5","c":2.72},{"z":1.4,"ratio":"5","c":0.3},{"z":1.9,"ratio":"5","c":1.41},{"z":2.3,"ratio":"5","c":0.42},{"z":2.7,"ratio":"5","c":1.35},{"z":3.1,"ratio":"5","c":0.5},{"z":3.5,"ratio":"5","c":1.1},{"z":3.9,"ratio":"5","c":0.58},{"z":4.3,"ratio":"5","c":0.98},{"z":4.8,"ratio":"5","c":0.64},{"z":5.3,"ratio":"5","c":0.91},{"z":5.8,"ratio":"5","c":0.7},{"z":6.3,"ratio":"5","c":0.86},{"z":6.8,"ratio":"5","c":0.74},{"z":7.3,"ratio":"5","c":0.825},{"z":7.8,"ratio":"5","c":0.765},{"z":8.3,"ratio":"5","c":0.803},{"z":8.8,"ratio":"5","c":0.777},{"z":9.3,"ratio":"5","c":0.795},{"z":9.8,"ratio":"5","c":0.781},{"z":10.3,"ratio":"5","c":0.792},{"z":10.8,"ratio":"5","c":0.7848},{"z":11.3,"ratio":"5","c":0.789},{"z":11.9,"ratio":"5","c":0.7862},{"z":12.5,"ratio":"5","c":0.787},{"z":15,"ratio":"5","c":0.7867},{"z":18,"ratio":"5","c":0.787},{"z":21,"ratio":"5","c":0.7866},{"z":24,"ratio":"5","c":0.7869},{"z":27,"ratio":"5","c":0.7867},{"z":30,"ratio":"5","c":0.787},{"z":33,"ratio":"5","c":0.7866},{"z":36,"ratio":"5","c":0.7869},{"z":39,"ratio":"5","c":0.7867},{"z":42,"ratio":"5","c":0.787},{"z":45,"ratio":"5","c":0.7866},{"z":46.5,"ratio":"5","c":0.7875},{"z":47.5,"ratio":"5","c":0.786},{"z":48.3,"ratio":"5","c":0.789},{"z":48.8,"ratio":"5","c":0.7845},{"z":49.2,"ratio":"5","c":0.792},{"z":49.5,"ratio":"5","c":0.781},{"z":49.8,"ratio":"5","c":0.797},{"z":50,"ratio":"5","c":0.776},{"z":50.2,"ratio":"5","c":0.83},{"z":50.4,"ratio":"5","c":0.74},
      {"z":-50.4,"ratio":"20","c":0.773},{"z":-50.2,"ratio":"20","c":0.799},{"z":-50,"ratio":"20","c":0.781},{"z":-49.8,"ratio":"20","c":0.7925},{"z":-49.5,"ratio":"20","c":0.7835},{"z":-49.2,"ratio":"20","c":0.789},{"z":-48.8,"ratio":"20","c":0.7855},{"z":-48.3,"ratio":"20","c":0.7878},{"z":-47.5,"ratio":"20","c":0.7862},{"z":-46.5,"ratio":"20","c":0.7871},{"z":-44,"ratio":"20","c":0.7866},{"z":-41,"ratio":"20","c":0.7872},{"z":-38,"ratio":"20","c":0.7864},{"z":-35,"ratio":"20","c":0.787},{"z":-32,"ratio":"20","c":0.7865},{"z":-29,"ratio":"20","c":0.7871},{"z":-26,"ratio":"20","c":0.7866},{"z":-23,"ratio":"20","c":0.787},{"z":-20,"ratio":"20","c":0.7865},{"z":-17,"ratio":"20","c":0.7871},{"z":-14,"ratio":"20","c":0.7866},{"z":-12.5,"ratio":"20","c":0.787},{"z":-11.8,"ratio":"20","c":0.7862},{"z":-11.2,"ratio":"20","c":0.789},{"z":-10.7,"ratio":"20","c":0.7848},{"z":-10.2,"ratio":"20","c":0.7915},{"z":-9.7,"ratio":"20","c":0.781},{"z":-9.2,"ratio":"20","c":0.795},{"z":-8.7,"ratio":"20","c":0.777},{"z":-8.2,"ratio":"20","c":0.804},{"z":-7.7,"ratio":"20","c":0.764},{"z":-7.2,"ratio":"20","c":0.83},{"z":-6.7,"ratio":"20","c":0.74},{"z":-6.2,"ratio":"20","c":0.86},{"z":-5.7,"ratio":"20","c":0.7},{"z":-5.2,"ratio":"20","c":0.9},{"z":-4.7,"ratio":"20","c":0.64},{"z":-4.2,"ratio":"20","c":0.98},{"z":-3.7,"ratio":"20","c":0.55},{"z":-3.2,"ratio":"20","c":1.07},{"z":-2.8,"ratio":"20","c":0.45},{"z":-2.4,"ratio":"20","c":1.41},{"z":-2,"ratio":"20","c":0.26},{"z":-1.6,"ratio":"20","c":2},{"z":-1.25,"ratio":"20","c":0.02},{"z":-0.95,"ratio":"20","c":3.35},{"z":-0.55,"ratio":"20","c":0},{"z":0,"ratio":"20","c":0},{"z":0.5,"ratio":"20","c":0},{"z":0.95,"ratio":"20","c":2.69},{"z":1.4,"ratio":"20","c":0.3},{"z":1.9,"ratio":"20","c":1.41},{"z":2.3,"ratio":"20","c":0.42},{"z":2.7,"ratio":"20","c":1.35},{"z":3.1,"ratio":"20","c":0.5},{"z":3.5,"ratio":"20","c":1.1},{"z":3.9,"ratio":"20","c":0.58},{"z":4.3,"ratio":"20","c":0.98},{"z":4.8,"ratio":"20","c":0.64},{"z":5.3,"ratio":"20","c":0.91},{"z":5.8,"ratio":"20","c":0.7},{"z":6.3,"ratio":"20","c":0.86},{"z":6.8,"ratio":"20","c":0.74},{"z":7.3,"ratio":"20","c":0.825},{"z":7.8,"ratio":"20","c":0.765},{"z":8.3,"ratio":"20","c":0.803},{"z":8.8,"ratio":"20","c":0.777},{"z":9.3,"ratio":"20","c":0.795},{"z":9.8,"ratio":"20","c":0.781},{"z":10.3,"ratio":"20","c":0.792},{"z":10.8,"ratio":"20","c":0.7848},{"z":11.3,"ratio":"20","c":0.789},{"z":11.9,"ratio":"20","c":0.7862},{"z":12.5,"ratio":"20","c":0.787},{"z":15,"ratio":"20","c":0.7866},{"z":18,"ratio":"20","c":0.7871},{"z":21,"ratio":"20","c":0.7865},{"z":24,"ratio":"20","c":0.787},{"z":27,"ratio":"20","c":0.7866},{"z":30,"ratio":"20","c":0.7871},{"z":33,"ratio":"20","c":0.7865},{"z":36,"ratio":"20","c":0.787},{"z":39,"ratio":"20","c":0.7866},{"z":42,"ratio":"20","c":0.7871},{"z":45,"ratio":"20","c":0.7866},{"z":46.5,"ratio":"20","c":0.7875},{"z":47.5,"ratio":"20","c":0.786},{"z":48.3,"ratio":"20","c":0.789},{"z":48.8,"ratio":"20","c":0.7845},{"z":49.2,"ratio":"20","c":0.792},{"z":49.5,"ratio":"20","c":0.781},{"z":49.8,"ratio":"20","c":0.797},{"z":50,"ratio":"20","c":0.776},{"z":50.2,"ratio":"20","c":0.83},{"z":50.4,"ratio":"20","c":0.74}
    ]
  },
  "vconcat": [
    {
      "width": 462, "height": 290,
      "resolve": {"scale": {"x": "independent", "y": "independent"}, "axis": {"x": "independent", "y": "independent"}},
      "layer": [
        {
          "data": {"name": "cu"},
          "mark": {"type": "line", "strokeWidth": 3.5, "clip": true},
          "encoding": {
            "x": {"field": "z", "type": "quantitative", "scale": {"domain": [-50.5, 50.5], "nice": false, "zero": false}, "axis": {"orient": "bottom", "values": [-40, -20, 0, 20, 40], "title": null, "labelExpr": "replace(datum.label, '-', '−')"}},
            "y": {"field": "c", "type": "quantitative", "scale": {"domain": [0, 0.4], "nice": false, "zero": false}, "axis": {"orient": "left", "values": [0, 0.1, 0.2, 0.3, 0.4], "format": ".1f", "title": "cᵤ(z) (1/σ³)"}},
            "color": {"field": "ratio", "type": "nominal", "scale": {"domain": ["2", "3", "5", "20"], "range": ["#1f77b4", "#ff7f0e", "#2ca02c", "#d62728"]}, "legend": null}
          }
        },
        {
          "data": {"values": [{}]},
          "mark": {"type": "point", "opacity": 0},
          "encoding": {
            "x": {"datum": 0, "type": "quantitative", "scale": {"domain": [-50.5, 50.5], "nice": false, "zero": false}, "axis": {"orient": "top", "values": [-40, -20, 0, 20, 40], "labels": false, "title": "(a)", "titleX": -93, "titleY": 1, "titleAngle": 0, "titleAlign": "left", "titleBaseline": "middle", "titleFont": "DejaVu Sans"}},
            "y": {"datum": 0, "type": "quantitative", "scale": {"domain": [0, 0.4], "nice": false, "zero": false}, "axis": {"orient": "right", "values": [0, 0.1, 0.2, 0.3, 0.4], "labels": false, "title": null}}
          }
        },
        {
          "data": {"values": [{}]},
          "mark": {"type": "rect", "fill": "white", "stroke": "black", "strokeWidth": 1.9},
          "encoding": {
            "x": {"datum": -5, "type": "quantitative", "scale": {"domain": [-5, 5], "range": [51, 190], "nice": false, "zero": false}, "axis": {"orient": "top", "offset": -23, "values": [-5, 0, 5], "labels": false, "title": null}},
            "x2": {"datum": 5},
            "y": {"datum": 0, "type": "quantitative", "scale": {"domain": [0, 2.8], "range": [139, 23], "nice": false, "zero": false}, "axis": {"orient": "right", "offset": -272, "values": [0, 2], "labels": false, "title": null}},
            "y2": {"datum": 2.8}
          }
        },
        {
          "data": {"name": "cu"},
          "transform": [{"filter": {"field": "z", "range": [-5, 5]}}],
          "mark": {"type": "line", "strokeWidth": 3.5},
          "encoding": {
            "x": {"field": "z", "type": "quantitative", "scale": {"domain": [-5, 5], "range": [51, 190], "nice": false, "zero": false}, "axis": {"orient": "bottom", "offset": -151, "values": [-5, 0, 5], "title": null, "labelExpr": "replace(datum.label, '-', '−')"}},
            "y": {"field": "c", "type": "quantitative", "scale": {"domain": [0, 2.8], "range": [139, 23], "nice": false, "zero": false}, "axis": {"orient": "left", "offset": -51, "values": [0, 2], "format": "d", "title": null}},
            "color": {"field": "ratio", "type": "nominal", "scale": {"domain": ["2", "3", "5", "20"], "range": ["#1f77b4", "#ff7f0e", "#2ca02c", "#d62728"]}, "legend": null}
          }
        }
      ]
    },
    {
      "width": 462, "height": 290,
      "resolve": {"axis": {"x": "independent", "y": "independent"}},
      "layer": [
        {
          "data": {"name": "sim"},
          "mark": {"type": "line", "strokeWidth": 3.5, "clip": true},
          "encoding": {
            "x": {"field": "z", "type": "quantitative", "scale": {"domain": [-50.5, 50.5], "nice": false, "zero": false}, "axis": {"orient": "bottom", "values": [-40, -20, 0, 20, 40], "title": null, "labelExpr": "replace(datum.label, '-', '−')"}},
            "y": {"field": "c", "type": "quantitative", "scale": {"domain": [0, 0.2774], "nice": false, "zero": false}, "axis": {"orient": "left", "values": [0, 0.05, 0.1, 0.15, 0.2, 0.25], "format": ".2f", "title": "cᵤᶜᵉⁿᵗᵉʳ(z) (1/σ³)", "titleY": 180}},
            "color": {"field": "ratio", "type": "nominal", "scale": {"domain": ["2", "3", "5", "20"], "range": ["#1f77b4", "#ff7f0e", "#2ca02c", "#d62728"]}, "legend": {"orient": "none", "legendX": 246, "legendY": 185, "title": "conc. ratio", "titleFont": "DejaVu Sans", "titleFontSize": 19, "titleFontWeight": "normal", "titleColor": "black", "titleAnchor": "middle", "titlePadding": 11, "columns": 2, "columnPadding": 30, "symbolType": "M-2.5,0H2.5", "symbolStrokeWidth": 3.5, "symbolSize": 289, "symbolOffset": 13, "labelFont": "DejaVu Sans", "labelFontSize": 19, "labelColor": "black", "labelOffset": 29, "rowPadding": 10, "padding": 7, "fillColor": "white", "strokeColor": "#cccccc", "cornerRadius": 4}},
            "strokeDash": {"datum": "simulation", "type": "nominal", "scale": {"domain": ["simulation", "tan⁻¹ fit"], "range": [[1, 0], [3.4, 5.6]]}, "legend": {"orient": "none", "legendX": 10, "legendY": 10, "title": null, "symbolType": "M-2.5,0H2.5", "symbolStrokeColor": "black", "symbolStrokeWidth": 3.4, "symbolSize": 289, "symbolOffset": 13, "labelFont": "DejaVu Sans", "labelFontSize": 19, "labelColor": "black", "labelOffset": 28, "rowPadding": 11, "padding": 7, "fillColor": "white", "strokeColor": "#cccccc", "cornerRadius": 4}}
          }
        },
        {
          "data": {"name": "fit"},
          "mark": {"type": "line", "strokeWidth": 3.4, "color": "black", "clip": true},
          "encoding": {
            "x": {"field": "z", "type": "quantitative", "scale": {"domain": [-50.5, 50.5], "nice": false, "zero": false}, "axis": {"orient": "top", "values": [-40, -20, 0, 20, 40], "labels": false, "title": "(b)", "titleX": -93, "titleY": 1, "titleAngle": 0, "titleAlign": "left", "titleBaseline": "middle", "titleFont": "DejaVu Sans"}},
            "y": {"field": "c", "type": "quantitative", "scale": {"domain": [0, 0.2774], "nice": false, "zero": false}, "axis": {"orient": "right", "values": [0, 0.05, 0.1, 0.15, 0.2, 0.25], "labels": false, "title": null}},
            "detail": {"field": "ratio", "type": "nominal"},
            "strokeDash": {"datum": "tan⁻¹ fit", "type": "nominal"}
          }
        }
      ]
    },
    {
      "width": 462, "height": 289,
      "resolve": {"scale": {"x": "independent", "y": "independent"}, "axis": {"x": "independent", "y": "independent"}},
      "layer": [
        {
          "data": {"name": "rho"},
          "mark": {"type": "line", "strokeWidth": 3.5, "clip": true},
          "encoding": {
            "x": {"field": "z", "type": "quantitative", "scale": {"domain": [-50.5, 50.5], "nice": false, "zero": false}, "axis": {"orient": "bottom", "values": [-40, -20, 0, 20, 40], "title": "z (σ)", "titleFontStyle": "italic", "labelExpr": "replace(datum.label, '-', '−')"}},
            "y": {"field": "c", "type": "quantitative", "scale": {"domain": [0, 3.51], "nice": false, "zero": false}, "axis": {"orient": "left", "values": [0, 1, 2, 3], "format": "d", "title": "ρ(z) (1/σ³)"}},
            "color": {"field": "ratio", "type": "nominal", "scale": {"domain": ["2", "3", "5", "20"], "range": ["#1f77b4", "#ff7f0e", "#2ca02c", "#d62728"]}, "legend": null}
          }
        },
        {
          "data": {"values": [{}]},
          "mark": {"type": "point", "opacity": 0},
          "encoding": {
            "x": {"datum": 0, "type": "quantitative", "scale": {"domain": [-50.5, 50.5], "nice": false, "zero": false}, "axis": {"orient": "top", "values": [-40, -20, 0, 20, 40], "labels": false, "title": "(c)", "titleX": -93, "titleY": 1, "titleAngle": 0, "titleAlign": "left", "titleBaseline": "middle", "titleFont": "DejaVu Sans"}},
            "y": {"datum": 0, "type": "quantitative", "scale": {"domain": [0, 3.51], "nice": false, "zero": false}, "axis": {"orient": "right", "values": [0, 1, 2, 3], "labels": false, "title": null}}
          }
        },
        {
          "data": {"values": [{}]},
          "mark": {"type": "rect", "fill": "white", "stroke": "black", "strokeWidth": 1.9},
          "encoding": {
            "x": {"datum": -50.3, "type": "quantitative", "scale": {"domain": [-50.3, 50.3], "range": [306, 442], "nice": false, "zero": false}, "axis": {"orient": "top", "offset": -23, "values": [-50, 0, 50], "labels": false, "title": null}},
            "x2": {"datum": 50.3},
            "y": {"datum": 0.77, "type": "quantitative", "scale": {"domain": [0.77, 0.81], "range": [138, 23], "nice": false, "zero": false}, "axis": {"orient": "right", "offset": -20, "values": [0.77, 0.79, 0.81], "labels": false, "title": null}},
            "y2": {"datum": 0.81}
          }
        },
        {
          "data": {"name": "rho"},
          "mark": {"type": "line", "strokeWidth": 3.5},
          "encoding": {
            "x": {"field": "z", "type": "quantitative", "scale": {"domain": [-50.3, 50.3], "range": [306, 442], "nice": false, "zero": false, "clamp": true}, "axis": {"orient": "bottom", "offset": -151, "values": [-50, 0, 50], "title": null, "labelExpr": "replace(datum.label, '-', '−')"}},
            "y": {"field": "c", "type": "quantitative", "scale": {"domain": [0.77, 0.81], "range": [138, 23], "nice": false, "zero": false, "clamp": true}, "axis": {"orient": "left", "offset": -306, "values": [0.77, 0.79, 0.81], "format": ".2f", "title": null}},
            "color": {"field": "ratio", "type": "nominal", "scale": {"domain": ["2", "3", "5", "20"], "range": ["#1f77b4", "#ff7f0e", "#2ca02c", "#d62728"]}, "legend": null}
          }
        }
      ]
    }
  ]
}
